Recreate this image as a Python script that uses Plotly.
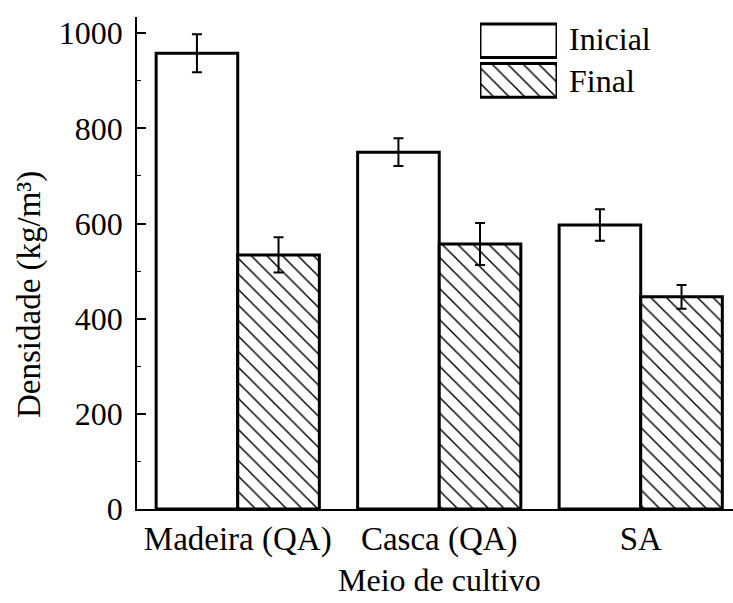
import plotly.graph_objects as go

categories = ["Madeira (QA)", "Casca (QA)", "SA"]
inicial = [958, 750, 597]
inicial_err = [40, 29, 33]
final = [534, 557, 446]
final_err = [37, 44, 25]
y_ticks = [0, 200, 400, 600, 800, 1000]
series_names = ["Inicial", "Final"]

FONT = "Liberation Serif"
FS = 32
PATTERN = dict(shape="\\", size=11, solidity=0.13, fgcolor="black", bgcolor="white", fgopacity=1)

fig = go.Figure()
fig.add_trace(go.Bar(
    x=categories, y=inicial, name=series_names[0],
    marker=dict(color="white", line=dict(color="black", width=3)),
    error_y=dict(type="data", array=inicial_err, color="black", thickness=2, width=5),
    showlegend=False,
))
fig.add_trace(go.Bar(
    x=categories, y=final, name=series_names[1],
    marker=dict(color="white", line=dict(color="black", width=3), pattern=PATTERN),
    error_y=dict(type="data", array=final_err, color="black", thickness=2, width=5),
    showlegend=False,
))

# legend swatches drawn as bars on an overlay axis
fig.add_trace(go.Bar(
    y=[1], x=[1], orientation="h", width=0.85, xaxis="x2", yaxis="y2",
    marker=dict(color="white", line=dict(color="black", width=3)),
    showlegend=False, hoverinfo="skip",
))
fig.add_trace(go.Bar(
    y=[0], x=[1], orientation="h", width=0.85, xaxis="x2", yaxis="y2",
    marker=dict(color="white", line=dict(color="black", width=3), pattern=PATTERN),
    showlegend=False, hoverinfo="skip",
))

fig.update_layout(
    width=733, height=603,
    margin=dict(l=137, r=0, t=17, b=94, autoexpand=False),
    paper_bgcolor="white", plot_bgcolor="white",
    font=dict(family=FONT, size=FS, color="black"),
    barmode="group", bargap=0.19, bargroupgap=0,
    xaxis=dict(
        range=[-0.5, 2.458], showline=True, linecolor="black", linewidth=1.5,
        ticks="", showgrid=False, zeroline=False, automargin=False,
        tickfont=dict(family=FONT, size=33, color="black"),
    ),
    yaxis=dict(
        range=[0, 1034], tickvals=y_ticks, showline=True, linecolor="black", linewidth=1.5,
        ticks="inside", ticklen=9, tickwidth=1.5, tickcolor="black",
        minor=dict(ticks="inside", ticklen=4, tickwidth=1, dtick=100, tickcolor="black"),
        showgrid=False, zeroline=False, ticklabelstandoff=6, automargin=False,
        tickfont=dict(family=FONT, size=FS, color="black"),
    ),
    xaxis2=dict(domain=[0.5755, 0.7047], range=[0, 1], visible=False, anchor="y2", fixedrange=True),
    yaxis2=dict(domain=[0.831, 0.992], range=[-0.5, 1.5], visible=False, anchor="x2", fixedrange=True),
    annotations=[
        dict(text="Densidade (kg/m³)", x=-0.1795, y=0.435, xref="paper", yref="paper",
             textangle=-90, showarrow=False, font=dict(family=FONT, size=33),
             xanchor="center", yanchor="middle"),
        dict(text="Meio de cultivo", x=0.508, y=-0.1443, xref="paper", yref="paper",
             showarrow=False, font=dict(family=FONT, size=32), xanchor="center", yanchor="middle"),
        dict(text=series_names[0], x=0.7215, y=0.955, xref="paper", yref="paper",
             showarrow=False, font=dict(family=FONT, size=32), xanchor="left", yanchor="middle"),
        dict(text=series_names[1], x=0.7215, y=0.870, xref="paper", yref="paper",
             showarrow=False, font=dict(family=FONT, size=32), xanchor="left", yanchor="middle"),
    ],
)

fig.write_html(
    "out.html",
    config={"displayModeBar": False},
    post_script="document.body.style.margin='0px';document.body.style.overflow='hidden';",
)
